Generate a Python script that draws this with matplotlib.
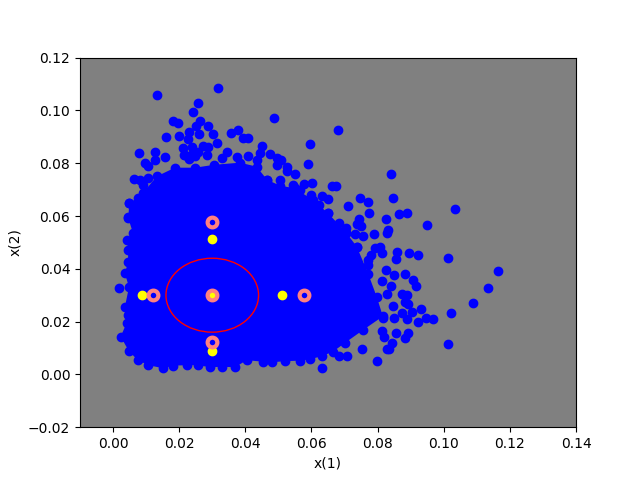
import matplotlib
matplotlib.use('Agg')
import matplotlib.pyplot as plt
from matplotlib.patches import Circle

edge_x = [0.0041, 0.0023, 0.0047, 0.0074, 0.0107, 0.0152, 0.0181, 0.0223, 0.0257, 0.0293,
          0.0330, 0.0369, 0.0404, 0.0453, 0.0480, 0.0520, 0.0565, 0.0595, 0.0631, 0.0665,
          0.0701, 0.0756, 0.0816, 0.0797, 0.0772, 0.0737, 0.0705, 0.0650, 0.0605, 0.0550,
          0.0505, 0.0466, 0.0434, 0.0384, 0.0306, 0.0248, 0.0187, 0.0132, 0.0091, 0.0075,
          0.0049, 0.0046, 0.0060, 0.0041, 0.0046, 0.0045, 0.0036, 0.0048, 0.0036, 0.0045]
edge_y = [0.0195, 0.0143, 0.0090, 0.0054, 0.0035, 0.0023, 0.0033, 0.0035, 0.0035, 0.0027,
          0.0029, 0.0027, 0.0054, 0.0048, 0.0046, 0.0050, 0.0052, 0.0057, 0.0069, 0.0086,
          0.0119, 0.0168, 0.0220, 0.0295, 0.0380, 0.0484, 0.0537, 0.0611, 0.0660, 0.0705,
          0.0715, 0.0737, 0.0787, 0.0802, 0.0794, 0.0783, 0.0783, 0.0750, 0.0688, 0.0669,
          0.0649, 0.0592, 0.0536, 0.0510, 0.0472, 0.0425, 0.0383, 0.0330, 0.0257, 0.0225]

# separate points around the cloud
x1 = [0.0134, 0.0318, 0.0258, 0.0243, 0.0182, 0.0195, 0.0264, 0.0250, 0.0288, 0.0488,
      0.0231, 0.0261, 0.0303, 0.0161, 0.0200, 0.0228, 0.0358, 0.0377, 0.0394, 0.0409,
      0.0315, 0.0449, 0.0475, 0.0212, 0.0271, 0.0288, 0.0238, 0.0079, 0.0128, 0.0156,
      0.0097, 0.0106, 0.0127, 0.0218, 0.0248, 0.0344, 0.0374, 0.0409, 0.0444, 0.0497,
      0.0497, 0.0063, 0.0081, 0.0107, 0.0091, 0.0049, 0.0046, 0.0681, 0.0596, 0.0589,
      0.0841, 0.0551, 0.0525, 0.0527, 0.0507, 0.0505, 0.0545, 0.0577, 0.0601, 0.0663,
      0.0673, 0.0599, 0.0565, 0.0633, 0.0651, 0.0748, 0.0772, 0.0847, 0.1035, 0.0711,
      0.0624, 0.0775, 0.0866, 0.0890, 0.0826, 0.0950, 0.0649, 0.0744, 0.0750, 0.0737,
      0.0830, 0.0829, 0.0790, 0.0757, 0.0732, 0.0684, 0.0703, 0.0705, 0.1014, 0.1165,
      0.1135, 0.1090, 0.1023, 0.1014, 0.0968, 0.0946, 0.0923, 0.0932, 0.0905, 0.0923,
      0.0896, 0.0859, 0.0856, 0.0738, 0.0807, 0.0792, 0.0814, 0.0779, 0.0772, 0.0772,
      0.0826, 0.0850, 0.0883, 0.0908, 0.0915, 0.0812, 0.0842, 0.0829, 0.0873, 0.0888,
      0.0883, 0.0893, 0.0847, 0.0873, 0.0888, 0.0849, 0.0817, 0.0814, 0.0819, 0.0855,
      0.0893, 0.0883, 0.0844, 0.0829, 0.0835, 0.0799, 0.0754, 0.0633, 0.0706, 0.0684,
      0.0018, 0.0242, 0.0257, 0.0215, 0.0230, 0.0285, 0.0330, 0.0434, 0.0465]
x2 = [0.1060, 0.1085, 0.1028, 0.0994, 0.0961, 0.0952, 0.0961, 0.0942, 0.0942, 0.0971,
      0.0917, 0.0911, 0.0912, 0.0899, 0.0903, 0.0892, 0.0914, 0.0927, 0.0895, 0.0895,
      0.0876, 0.0867, 0.0835, 0.0857, 0.0864, 0.0861, 0.0861, 0.0838, 0.0843, 0.0823,
      0.0800, 0.0790, 0.0813, 0.0832, 0.0826, 0.0841, 0.0822, 0.0826, 0.0838, 0.0820,
      0.0794, 0.0740, 0.0737, 0.0744, 0.0718, 0.0649, 0.0596, 0.0926, 0.0873, 0.0797,
      0.0759, 0.0759, 0.0785, 0.0771, 0.0813, 0.0737, 0.0717, 0.0721, 0.0725, 0.0712,
      0.0713, 0.0680, 0.0700, 0.0676, 0.0664, 0.0668, 0.0653, 0.0668, 0.0626, 0.0637,
      0.0642, 0.0611, 0.0607, 0.0611, 0.0588, 0.0565, 0.0611, 0.0588, 0.0564, 0.0570,
      0.0547, 0.0535, 0.0531, 0.0525, 0.0532, 0.0573, 0.0556, 0.0537, 0.0440, 0.0391,
      0.0326, 0.0270, 0.0231, 0.0114, 0.0209, 0.0213, 0.0200, 0.0247, 0.0235, 0.0451,
      0.0460, 0.0464, 0.0436, 0.0484, 0.0484, 0.0478, 0.0459, 0.0453, 0.0434, 0.0415,
      0.0396, 0.0377, 0.0380, 0.0358, 0.0333, 0.0355, 0.0333, 0.0305, 0.0305, 0.0301,
      0.0276, 0.0267, 0.0259, 0.0234, 0.0209, 0.0213, 0.0213, 0.0166, 0.0141, 0.0156,
      0.0156, 0.0137, 0.0120, 0.0096, 0.0095, 0.0050, 0.0095, 0.0026, 0.0071, 0.0071,
      0.0326, 0.0838, 0.0843, 0.0830, 0.0815, 0.0830, 0.0820, 0.0813, 0.0737]

yellow_x = [0.03, 0.03, 0.0088, 0.0512, 0.03]
yellow_y = [0.03, 0.0512, 0.03, 0.03, 0.0088]

ring_x = [0.03, 0.03, 0.0121, 0.0578, 0.03]
ring_y = [0.03, 0.0579, 0.03, 0.03, 0.0121]

center = (0.03, 0.03)
radius = 0.014

fig, ax = plt.subplots()
ax.set_facecolor((0.5, 0.5, 0.5))

# dense cloud: single points can't be told apart in there
ax.fill(edge_x, edge_y, color='b', linewidth=0)
ax.plot(edge_x, edge_y, 'bo', linestyle='none')
ax.plot(x1, x2, 'bo', linestyle='none')

ax.plot(yellow_x, yellow_y, 'o', color='yellow', linestyle='none')
ax.plot(ring_x, ring_y, 'o', mfc='none', mec=(1, 0.5, 0.5), ms=7, mew=3, linestyle='none')
ax.add_patch(Circle(center, radius, fill=False, edgecolor='r', linewidth=1, zorder=3))

ax.set_xlim(-0.01, 0.14)
ax.set_ylim(-0.02, 0.12)
ax.set_xlabel('x(1)')
ax.set_ylabel('x(2)')

fig.savefig('out.png', dpi=100)
